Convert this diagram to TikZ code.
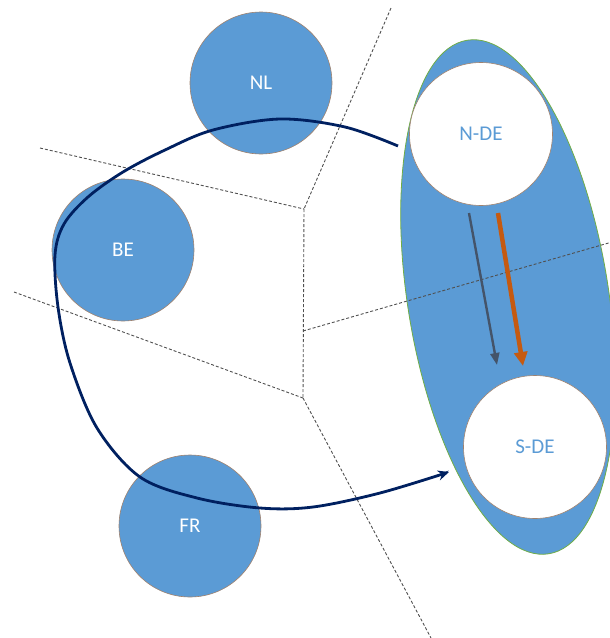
\documentclass[tikz,border=0pt]{standalone}
\usepackage{fontspec}
\setmainfont{Carlito}
\usetikzlibrary{shapes.geometric,arrows.meta}
\definecolor{ofblue}{HTML}{5B9BD5}
\definecolor{navy}{HTML}{002060}
\definecolor{slate}{HTML}{44546A}
\definecolor{rust}{HTML}{C55A11}
\definecolor{rim}{RGB}{160,130,110}
\definecolor{egreen}{HTML}{70AD47}
\definecolor{dgray}{HTML}{505050}
\tikzset{
  country/.style={circle, fill=ofblue, draw=rim, line width=0.6pt, minimum size=142pt, inner sep=0pt, text=white, font=\fontsize{21}{25}\selectfont},
  region/.style={circle, fill=white, draw=rim, line width=0.6pt, minimum size=143pt, inner sep=0pt, text=ofblue, font=\fontsize{21}{25}\selectfont},
  border/.style={dgray, line width=0.9pt, dash pattern=on 3pt off 2pt},
  flow/.style={navy, line width=2.8pt, -{Stealth[length=11pt,width=10pt]}}
}
\begin{document}
\begin{tikzpicture}[x=1pt,y=-1pt]
\path[use as bounding box] (0,0) rectangle (610,638);
% Germany ellipse
\node[ellipse, fill=ofblue, draw=egreen, line width=0.8pt, minimum width=201pt, minimum height=520pt, inner sep=0pt, rotate=9] (de) at (508,297) {};
\node[region] (nde) at (481,134) {N-DE};
\node[region] (sde) at (535,447) {S-DE};
% other countries
\node[country] (nl) at (261,83) {NL};
\node[country] (be) at (123,250) {BE};
\node[country] (fr) at (190,526) {FR};
% dashed borders
\coordinate (j1) at (304,209);
\coordinate (j3) at (303,331);
\coordinate (j2) at (303,398);
\coordinate (t1) at (391,8);
\coordinate (t2) at (40,148);
\coordinate (t3) at (14,292);
\coordinate (t4) at (431,638);
\coordinate (t5) at (612,242);
\draw[border] (t1) -- (j1);
\draw[border] (t2) -- (j1);
\draw[border] (j1) -- (j2);
\draw[border] (t3) -- (j2);
\draw[border] (j2) -- (t4);
\draw[border] (j3) -- (t5);
% flows inside Germany
\coordinate (ga) at (469,213);
\coordinate (gb) at (497,365);
\coordinate (oa) at (498,213);
\coordinate (ob) at (523,366);
\draw[slate, line width=2.4pt, -{Triangle[length=12pt,width=9pt]}] (ga) -- (gb);
\draw[rust, line width=4.5pt, -{Triangle[length=14pt,width=13pt]}] (oa) -- (ob);
% loop flow
\coordinate (fs) at (398,146);
\coordinate (fe) at (449,472);
\draw[flow] plot[smooth, tension=0.55] coordinates {(fs) (345,127) (280,119) (213,130) (165,150) (123,172) (88,197) (64,224) (55,255) (58,307) (70,363) (97,428) (140,477) (197,498) (260,508) (313,507) (380,493) (fe)};
\end{tikzpicture}
\end{document}
